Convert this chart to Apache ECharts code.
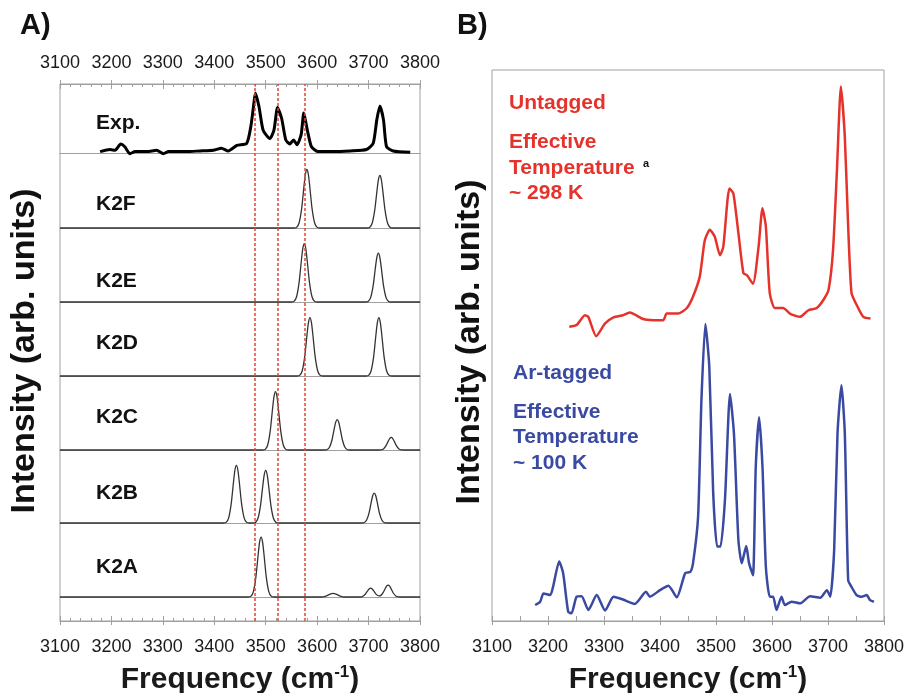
<!DOCTYPE html>
<html><head><meta charset="utf-8">
<script src="https://cdn.jsdelivr.net/npm/echarts@6/dist/echarts.min.js"></script>
<style>html,body{margin:0;padding:0;background:#fff}#c{width:905px;height:693px}</style>
</head><body><div id="c"></div>
<script>
// ---------- DATA ----------
const rowLabels = ['Exp.', 'K2F', 'K2E', 'K2D', 'K2C', 'K2B', 'K2A'];
const refLines = [3479, 3524, 3575];

const expSpectrum = [[3178,0.02],[3197,0.05],[3207,0.04],[3218,0.13],[3226,0.09],[3236,-0.01],[3246,0.02],[3269,0.02],[3288,0.04],[3301,-0.01],[3311,0.02],[3346,0.02],[3372,0.03],[3398,0.04],[3414,0.07],[3427,0.03],[3444,0.11],[3463,0.14],[3471,0.38],[3476,0.66],[3480,0.87],[3487,0.67],[3495,0.33],[3508,0.21],[3516,0.33],[3523,0.66],[3531,0.50],[3539,0.19],[3547,0.13],[3554,0.19],[3561,0.12],[3569,0.27],[3574,0.58],[3581,0.33],[3589,0.09],[3602,0.02],[3631,0.02],[3664,0.03],[3696,0.05],[3709,0.14],[3716,0.48],[3722,0.68],[3729,0.48],[3735,0.09],[3748,0.03],[3781,0.01]];

const k2fSpectrum = [[3100,0],[3555,0],[3560,0.008],[3565,0.07],[3570,0.265],[3574,0.53],[3577,0.71],[3580,0.78],[3583,0.71],[3586,0.53],[3590,0.265],[3595,0.07],[3600,0.008],[3605,0],[3697,0],[3702,0.007],[3707,0.063],[3712,0.238],[3716,0.476],[3719,0.637],[3722,0.70],[3725,0.637],[3728,0.476],[3732,0.238],[3737,0.063],[3742,0.007],[3747,0],[3800,0]];

const k2eSpectrum = [[3100,0],[3550,0],[3555,0.008],[3560,0.071],[3565,0.269],[3569,0.537],[3572,0.719],[3575,0.79],[3578,0.719],[3581,0.537],[3585,0.269],[3590,0.071],[3595,0.008],[3600,0],[3694,0],[3699,0.007],[3704,0.059],[3709,0.224],[3713,0.449],[3716,0.601],[3719,0.66],[3722,0.601],[3725,0.449],[3729,0.224],[3734,0.059],[3739,0.007],[3744,0],[3800,0]];

const k2dSpectrum = [[3100,0],[3561,0],[3566,0.008],[3571,0.071],[3576,0.269],[3580,0.537],[3583,0.719],[3586,0.79],[3589,0.719],[3592,0.537],[3596,0.269],[3601,0.071],[3606,0.008],[3611,0],[3695,0],[3700,0.008],[3705,0.071],[3710,0.269],[3714,0.537],[3717,0.719],[3720,0.79],[3723,0.719],[3726,0.537],[3730,0.269],[3735,0.071],[3740,0.008],[3745,0],[3800,0]];

const k2cSpectrum = [[3100,0],[3494,0],[3499,0.008],[3504,0.071],[3509,0.269],[3513,0.537],[3516,0.719],[3519,0.79],[3522,0.719],[3525,0.537],[3529,0.269],[3534,0.071],[3539,0.008],[3544,0],[3614,0],[3619,0.004],[3624,0.037],[3629,0.139],[3633,0.279],[3636,0.373],[3639,0.41],[3642,0.373],[3645,0.279],[3649,0.139],[3654,0.037],[3659,0.004],[3664,0],[3719,0],[3724,0.002],[3729,0.015],[3734,0.058],[3738,0.116],[3741,0.155],[3744,0.17],[3747,0.155],[3750,0.116],[3754,0.058],[3759,0.015],[3764,0.002],[3769,0],[3800,0]];

const k2bSpectrum = [[3100,0],[3418,0],[3423,0.008],[3428,0.071],[3433,0.269],[3437,0.537],[3440,0.719],[3443,0.79],[3446,0.719],[3449,0.537],[3453,0.269],[3458,0.071],[3463,0.008],[3468,0],[3475,0],[3480,0.007],[3485,0.065],[3490,0.245],[3494,0.49],[3497,0.655],[3500,0.72],[3503,0.655],[3506,0.49],[3510,0.245],[3515,0.065],[3520,0.007],[3525,0],[3686,0],[3691,0.004],[3696,0.037],[3701,0.139],[3705,0.279],[3708,0.373],[3711,0.41],[3714,0.373],[3717,0.279],[3721,0.139],[3726,0.037],[3731,0.004],[3736,0],[3800,0]];

const k2aSpectrum = [[3100,0],[3466,0],[3471,0.008],[3476,0.073],[3481,0.275],[3485,0.551],[3488,0.737],[3491,0.81],[3494,0.737],[3497,0.551],[3501,0.275],[3506,0.073],[3511,0.008],[3516,0],[3608,0],[3617,0.012],[3624,0.035],[3631,0.05],[3638,0.035],[3645,0.012],[3654,0],[3684,0],[3689,0.011],[3694,0.041],[3698,0.082],[3701,0.109],[3704,0.12],[3707,0.109],[3710,0.082],[3714,0.043],[3718,0.02],[3721,0.016],[3724,0.022],[3728,0.055],[3732,0.109],[3735,0.146],[3738,0.16],[3741,0.146],[3744,0.109],[3748,0.054],[3753,0.014],[3758,0.002],[3763,0],[3800,0]];

const untaggedSpectrum = [[3238,53.4],[3251,53.7],[3266,55.5],[3272,55.2],[3286,51.7],[3302,54.0],[3317,55.1],[3334,55.5],[3346,56.0],[3370,54.8],[3388,54.6],[3406,54.6],[3412,55.8],[3433,55.8],[3448,56.8],[3459,58.9],[3471,62.5],[3480,69.1],[3489,71.0],[3498,69.7],[3507,66.4],[3513,67.9],[3524,78.5],[3531,77.6],[3540,70.4],[3549,63.1],[3555,62.8],[3566,61.2],[3576,67.9],[3583,74.9],[3589,71.6],[3596,59.5],[3605,56.8],[3620,56.8],[3632,55.8],[3650,55.2],[3665,56.4],[3680,56.8],[3692,58.3],[3701,60.1],[3709,67.3],[3716,81.9],[3723,97.0],[3730,87.9],[3736,71.6],[3742,59.5],[3751,57.4],[3763,55.2],[3776,54.9]];

const arTaggedSpectrum = [[3177,2.9],[3186,3.5],[3192,5.0],[3204,4.7],[3209,6.2],[3220,10.8],[3227,8.7],[3236,1.7],[3242,1.4],[3251,4.4],[3260,4.5],[3272,2.0],[3287,4.7],[3302,1.9],[3317,4.4],[3334,3.9],[3355,3.1],[3375,5.3],[3382,4.4],[3400,5.6],[3415,6.4],[3430,4.3],[3445,8.7],[3454,8.9],[3459,10.5],[3468,18.9],[3474,40.1],[3481,53.9],[3488,46.2],[3495,23.2],[3502,13.5],[3508,13.5],[3516,22.0],[3525,41.2],[3532,34.1],[3540,14.7],[3546,10.5],[3554,13.6],[3559,10.5],[3566,8.3],[3571,28.0],[3577,37.0],[3583,28.0],[3589,9.9],[3596,4.4],[3602,4.4],[3608,2.0],[3617,4.4],[3623,2.9],[3635,3.5],[3650,3.2],[3668,4.5],[3686,4.2],[3698,5.6],[3704,4.4],[3711,12.9],[3717,34.1],[3724,42.8],[3730,34.1],[3736,7.4],[3742,6.2],[3751,4.7],[3760,4.4],[3769,4.7],[3775,3.8],[3782,3.5]];

const untaggedText = ['Untagged', 'Effective', 'Temperature', '~ 298 K'];
const taggedText = ['Ar-tagged', 'Effective', 'Temperature', '~ 100 K'];
const xTitle = 'Frequency (cm', xTitleSup = '-1', xTitleEnd = ')';
const yTitle = 'Intensity (arb. units)';

// ---------- CHART ----------
const rows = [expSpectrum, k2fSpectrum, k2eSpectrum, k2dSpectrum, k2cSpectrum, k2bSpectrum, k2aSpectrum];
const FONT = '"Liberation Sans", Arial, Helvetica, sans-serif';
const RED = '#e5332c', BLUE = '#3a4aa2', GREY = '#a0a0a0';
const rowLayout = [{top:84,h:69},{top:153,h:75},{top:228,h:74},{top:302,h:74},{top:376,h:74},{top:450,h:73},{top:523,h:74}];
const rowLabelY = [123, 204, 281, 343, 417, 493, 567];

const chart = echarts.init(document.getElementById('c'), null, {renderer: 'canvas'});

const grids = [{left:60, width:360, top:84, height:537, show:true, borderColor:GREY, borderWidth:1, outerBoundsMode:'none', containLabel:false}];
rowLayout.forEach(r => grids.push({left:60, width:360, top:r.top, height:r.h, outerBoundsMode:'none', containLabel:false}));
grids.push({left:492, width:392, top:70, height:551, show:true, borderColor:GREY, borderWidth:1, outerBoundsMode:'none', containLabel:false});

const baseX = {type:'value', min:3100, max:3800, interval:100, splitLine:{show:false}};
const lbl = {color:'#1a1a1a', fontSize:18, fontFamily:FONT, formatter: v => String(v)};
const titleRich = {a:{fontSize:30, fontWeight:'bold', fontFamily:FONT, color:'#1a1a1a', lineHeight:32},
                   s:{fontSize:17, fontWeight:'bold', fontFamily:FONT, color:'#1a1a1a', verticalAlign:'top', lineHeight:32}};
const titleText = '{a|' + xTitle + '}{s|' + xTitleSup + '}{a|' + xTitleEnd + '}';
const xAxes = [
  Object.assign({}, baseX, {gridIndex:0, position:'bottom',
    axisLine:{show:true, lineStyle:{color:GREY}},
    axisTick:{show:true, inside:true, length:5, lineStyle:{color:GREY}},
    minorTick:{show:true, splitNumber:5, length:3, lineStyle:{color:GREY}},
    axisLabel:Object.assign({margin:17}, lbl),
    name:titleText, nameLocation:'middle', nameGap:43, nameTextStyle:{rich:titleRich}}),
  Object.assign({}, baseX, {gridIndex:0, position:'bottom', axisLine:{show:false},
    axisTick:{show:true, inside:false, length:4, lineStyle:{color:GREY}}, axisLabel:{show:false}}),
  Object.assign({}, baseX, {gridIndex:0, position:'top',
    axisLine:{show:true, lineStyle:{color:GREY}},
    axisTick:{show:true, inside:true, length:5, lineStyle:{color:GREY}},
    minorTick:{show:true, splitNumber:5, length:3, lineStyle:{color:GREY}},
    axisLabel:Object.assign({margin:12}, lbl)}),
  Object.assign({}, baseX, {gridIndex:0, position:'top', axisLine:{show:false},
    axisTick:{show:true, inside:false, length:4, lineStyle:{color:GREY}}, axisLabel:{show:false}})
];
rows.forEach((r, i) => xAxes.push(Object.assign({}, baseX, {gridIndex:i+1, position:'bottom',
  axisLine:{show:true, lineStyle:{color:GREY, width:1}}, axisTick:{show:false}, axisLabel:{show:false}})));
const bX = xAxes.length;
xAxes.push(Object.assign({}, baseX, {gridIndex:rows.length+1, position:'bottom',
  axisLine:{show:true, lineStyle:{color:GREY}},
  axisTick:{show:true, inside:true, length:5, lineStyle:{color:GREY}},
  minorTick:{show:true, splitNumber:2, length:5, lineStyle:{color:GREY}},
  axisLabel:Object.assign({margin:17}, lbl),
  name:titleText, nameLocation:'middle', nameGap:43, nameTextStyle:{rich:titleRich}}));
xAxes.push(Object.assign({}, baseX, {gridIndex:rows.length+1, position:'bottom', axisLine:{show:false},
  axisTick:{show:true, inside:false, length:4, lineStyle:{color:GREY}}, axisLabel:{show:false}}));

const hiddenY = {type:'value', show:false, splitLine:{show:false}};
const yAxes = [Object.assign({gridIndex:0, min:0, max:1}, hiddenY)];
rows.forEach((r, i) => yAxes.push(Object.assign({gridIndex:i+1, min:0, max:1}, hiddenY)));
yAxes.push(Object.assign({gridIndex:rows.length+1, min:0, max:100}, hiddenY));

const series = [];
rows.forEach((r, i) => series.push({
  type:'line', xAxisIndex:4+i, yAxisIndex:1+i, data:r, showSymbol:false, symbol:'none', clip:false,
  smooth:0.2, lineStyle:{color: i === 0 ? '#000' : '#333', width: i === 0 ? 3 : 1.3}, z:3
}));
series.push({
  type:'line', xAxisIndex:0, yAxisIndex:0, data:[[3100,0]], symbol:'none', lineStyle:{opacity:0}, z:5,
  markLine:{silent:true, symbol:['none','none'], label:{show:false}, animation:false,
    lineStyle:{color:'#e0453a', type:[3,2], width:1.5},
    data: refLines.map(v => ({xAxis:v}))}
});
series.push({type:'line', xAxisIndex:bX, yAxisIndex:yAxes.length-1, data:untaggedSpectrum, symbol:'none', smooth:0.2,
  lineStyle:{color:RED, width:2.5}, z:3});
series.push({type:'line', xAxisIndex:bX, yAxisIndex:yAxes.length-1, data:arTaggedSpectrum, symbol:'none', smooth:0.2,
  lineStyle:{color:BLUE, width:2.5}, z:3});

function txt(text, x, y, font, color, extra) {
  return Object.assign({type:'text', x:x, y:y, z:10, style:{text:text, font:font, fill:color,
    align:'left', verticalAlign:'middle', textAlign:'left', textVerticalAlign:'middle'}}, extra || {});
}
const graphics = [
  txt('A)', 20, 26, 'bold 29px ' + FONT, '#111'),
  txt('B)', 457, 26, 'bold 29px ' + FONT, '#111'),
  {type:'text', x:25, y:351, rotation:Math.PI/2, z:10, style:{text:yTitle, font:'bold 34px ' + FONT, fill:'#111',
    align:'center', verticalAlign:'middle', textAlign:'center', textVerticalAlign:'middle'}},
  {type:'text', x:470, y:342, rotation:Math.PI/2, z:10, style:{text:yTitle, font:'bold 34px ' + FONT, fill:'#111',
    align:'center', verticalAlign:'middle', textAlign:'center', textVerticalAlign:'middle'}}
];
rowLabels.forEach((l, i) => graphics.push(txt(l, 96, rowLabelY[i], 'bold 21px ' + FONT, '#111')));
const redY = [103, 142, 168, 193];
untaggedText.forEach((t, i) => graphics.push(txt(t, 509, redY[i], 'bold 21px ' + FONT, RED)));
graphics.push(txt('a', 643, 164, 'bold 11px ' + FONT, '#111'));
const blueY = [373, 412, 437, 463];
taggedText.forEach((t, i) => graphics.push(txt(t, 513, blueY[i], 'bold 21px ' + FONT, BLUE)));

chart.setOption({
  animation:false,
  backgroundColor:'#fff',
  grid:grids, xAxis:xAxes, yAxis:yAxes, series:series, graphic:graphics
});
</script></body></html>
